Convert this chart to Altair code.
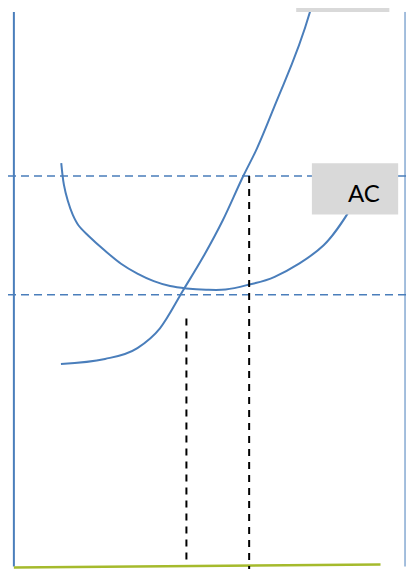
import altair as alt
import pandas as pd

# ---- data (quantity q, cost c) ----
mc_q = [12, 23.25, 31.5, 37.25, 43.25, 48.25, 53.25, 58.5, 62, 66.5, 75.5, 76]
mc_c = [41, 42, 44.2, 48.2, 56, 62.6, 70, 79, 84.6, 93.2, 112.2, 113.6]

ac_q = [12.08, 12.75, 13.75, 15, 16.5, 19, 23.18, 27.33, 31.5, 35.68, 39.83, 44,
        49, 54, 59.75, 66.5, 79, 86.5]
ac_c = [81.6, 77.26, 74, 71.2, 69, 66.94, 63.94, 61.26, 59.26, 57.74, 56.74, 56.26,
        56, 56.04, 57, 58.6, 65, 73.2]

price_levels = [79, 55]          # blue dashed horizontals
qty_lines_q = [44, 60]           # black dashed verticals
qty_lines_top = [50.2, 79]
qty_lines_bottom = [0.3, -0.8]

box_labels = ["AC", "MC"]
box_q1 = [76, 72]
box_q2 = [98, 95.75]
box_c1 = [71.2, 112.2]
box_c2 = [81.6, 118]
label_q = [89.25, 86.5]
label_c = [73.8, 114.4]

XD = [-1.5, 100]
YD = [-0.5, 113]
BLUE = "#4A7EBB"

xs = alt.Scale(domain=XD, nice=False, zero=False)
ys = alt.Scale(domain=YD, nice=False, zero=False)


def X(f="q"):
    return alt.X(f"{f}:Q", scale=xs, axis=None)


def Y(f="c"):
    return alt.Y(f"{f}:Q", scale=ys, axis=None)


mc = pd.DataFrame({"q": mc_q, "c": mc_c})
ac = pd.DataFrame({"q": ac_q, "c": ac_c})
hl = pd.DataFrame({"c": price_levels, "q": [XD[0]] * 2, "q2": [XD[1]] * 2})
vl = pd.DataFrame({"q": qty_lines_q, "c": qty_lines_top, "c2": qty_lines_bottom})
boxes = pd.DataFrame({"label": box_labels, "q": box_q1, "q2": box_q2,
                      "c": box_c1, "c2": box_c2, "lq": label_q, "lc": label_c})
axis_v = pd.DataFrame({"q": [0, 99.75], "c": [0, 0], "c2": [112.2, 112.2],
                       "w": [2, 1]})
axis_h = pd.DataFrame({"q": [0, 93.5], "c": [-0.2, 0.4]})

l_hl = alt.Chart(hl).mark_rule(color=BLUE, strokeWidth=1.6, strokeDash=[8, 5]).encode(
    x=X(), x2="q2:Q", y=Y())
l_vl = alt.Chart(vl).mark_rule(color="black", strokeWidth=2, strokeDash=[7, 6], clip=True).encode(
    x=X(), y=Y(), y2="c2:Q")
l_axv = alt.Chart(axis_v).mark_rule(color=BLUE).encode(
    x=X(), y=Y(), y2="c2:Q",
    strokeWidth=alt.StrokeWidth("w:Q", scale=None, legend=None))
l_axh = alt.Chart(axis_h).mark_line(color="#A5BA2C", strokeWidth=2.5).encode(x=X(), y=Y())
l_mc = alt.Chart(mc).mark_line(color=BLUE, strokeWidth=2, interpolate="monotone", clip=True).encode(
    x=X(), y=Y(), order="q:Q")
l_ac = alt.Chart(ac).mark_line(color=BLUE, strokeWidth=2, interpolate="catmull-rom").encode(
    x=X(), y=Y(), order="q:Q")
l_box = alt.Chart(boxes).mark_rect(color="#D9D9D9", clip=True).encode(
    x=X(), x2="q2:Q", y=Y(), y2="c2:Q")
l_txt = alt.Chart(boxes).mark_text(font="Lato", fontSize=24, color="black",
                                   baseline="alphabetic", align="center", clip=True).encode(
    x=X("lq"), y=Y("lc"), text="label:N")

chart = alt.layer(l_hl, l_axv, l_axh, l_mc, l_ac, l_vl, l_box, l_txt).properties(
    width=398, height=561, padding=0, autosize=alt.AutoSizeParams(type="none")
).configure_view(stroke=None)

chart.save("out.html", embed_options={"renderer": "svg", "actions": False})
